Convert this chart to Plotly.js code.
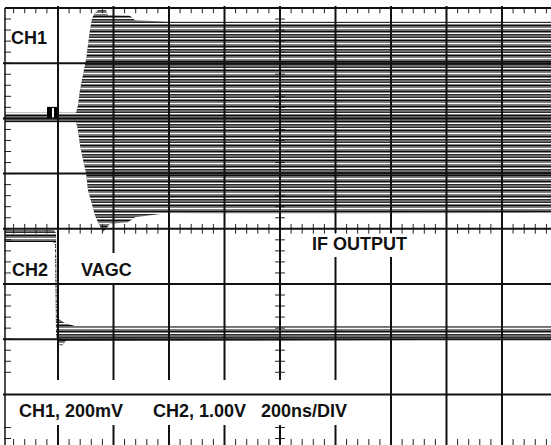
<!DOCTYPE html>
<html><head><meta charset="utf-8">
<script src="https://cdn.plot.ly/plotly-3.0.1.min.js"></script>
<style>html,body{margin:0;padding:0;background:#fff;}#chart{width:551px;height:445px;}</style>
</head><body><div id="chart"></div>
<script>
// ---- data (time in ns, amplitude in divisions) ----
const ch1UpperT = [9, 265, 272, 279, 290, 301, 308, 315, 323, 333, 344, 373, 380, 459, 477, 604, 1977];
const ch1UpperV = [2.10, 2.10, 2.24, 2.51, 2.79, 3.06, 3.33, 3.60, 3.82, 3.91, 3.96, 3.96, 3.87, 3.86, 3.78, 3.75, 3.75];
const ch1LowerT = [9, 265, 272, 279, 290, 301, 308, 323, 333, 344, 355, 362, 373, 387, 452, 477, 568, 1977];
const ch1LowerV = [1.93, 1.93, 1.79, 1.52, 1.25, 1.01, 0.70, 0.43, 0.25, 0.12, 0.01, -0.06, 0.00, 0.09, 0.12, 0.21, 0.27, 0.29];
const ch2UpperT = [9, 186, 193, 196, 207, 225, 261, 1977];
const ch2UpperV = [-0.02, -0.02, -0.08, -1.62, -1.65, -1.71, -1.76, -1.76];
const ch2LowerT = [9, 182, 189, 193, 200, 214, 229, 1977];
const ch2LowerV = [-0.24, -0.24, -0.29, -1.92, -2.09, -2.12, -2.03, -2.01];
const markerT = [182];
const markerV = [2.10];
const xGrid = [200, 400, 600, 800, 1000, 1200, 1400, 1600, 1800];
const yGrid = [3, 2, 1, 0, -1, -2, -3];
const labelTexts = ['CH1', 'CH2', 'VAGC', 'IF OUTPUT', 'CH1, 200mV', 'CH2, 1.00V', '200ns/DIV'];

// ---- geometry ----
const W = 551, H = 445;
const ML = 3, MT = 6;
const PW = W - ML, PH = H - MT;
const XR = [1.8, 1976.6];
const YR = [-3.917, 4.036];
const pxX = t => ML + (t - XR[0]) / (XR[1] - XR[0]) * PW;
const pxY = v => MT + (YR[1] - v) / (YR[1] - YR[0]) * PH;
const tOf = px => XR[0] + (px - ML) / PW * (XR[1] - XR[0]);
const vOf = py => YR[1] - (py - MT) / PH * (YR[1] - YR[0]);
const paperX = px => (px - ML) / PW;
const paperY = py => 1 - (py - MT) / PH;

const labelPos = [[29, 38], [30, 270], [106, 270], [359, 244], [71, 411], [199, 411], [304, 411]];
const gapBoxes = [
  {x0: 10, x1: 350, y0: 380, y1: 425},
  {x0: 300, x1: 415, y0: 233, y1: 257},
  {x0: 75, x1: 135, y0: 253, y1: 283}
];
const inGap = (px, py) => gapBoxes.some(g => px >= g.x0 - 3 && px <= g.x1 + 3 && py >= g.y0 && py <= g.y1);

function band(uT, uV, lT, lV) {
  return {x: uT.concat(lT.slice().reverse()), y: uV.concat(lV.slice().reverse())};
}
const b1 = band(ch1UpperT, ch1UpperV, ch1LowerT, ch1LowerV);
const b2 = band(ch2UpperT, ch2UpperV, ch2LowerT, ch2LowerV);
const patA = {shape: '-', size: 3, solidity: 0.5, fgcolor: '#0d0d0d', bgcolor: '#8c8c8c'};
const patB = {shape: '-', size: 5, solidity: 0.25, fgcolor: '#ffffff', bgcolor: 'rgba(0,0,0,0)'};

const traces = [];
[b1, b2].forEach(b => {
  traces.push({x: b.x, y: b.y, mode: 'none', fill: 'toself', fillpattern: patA, hoverinfo: 'skip', showlegend: false});
  traces.push({x: b.x, y: b.y, mode: 'none', fill: 'toself', fillcolor: 'rgba(0,0,0,0)', fillpattern: patB, hoverinfo: 'skip', showlegend: false});
});

// graticule minor ticks
const tickT = [], tickV = [];
for (let k = 1; k < 50; k++) tickT.push(k * 40);
for (let k = -19; k <= 19; k++) tickV.push(k * 0.2);
const tickMk = (sym, size) => ({symbol: sym, size: size, color: '#222', line: {width: 1, color: '#222'}});
function tickRow(xs, ys, sym, size) {
  const X = [], Y = [];
  xs.forEach((x, i) => { if (!inGap(pxX(x), pxY(ys[i]))) { X.push(x); Y.push(ys[i]); } });
  return {x: X, y: Y, mode: 'markers', marker: tickMk(sym, size), hoverinfo: 'skip', showlegend: false};
}
traces.push(tickRow(tickT, tickT.map(() => vOf(10.5)), 'line-ns', 4));
traces.push(tickRow(tickT, tickT.map(() => 0), 'line-ns', 7));
traces.push(tickRow(tickT, tickT.map(() => vOf(442.5)), 'line-ns', 5));
traces.push(tickRow(tickV.map(() => tOf(7.5)), tickV, 'line-ew', 5));
traces.push(tickRow(tickV.map(() => 1000), tickV, 'line-ew', 7));
// ground marker of CH1
traces.push({x: markerT, y: markerV, mode: 'markers', marker: {symbol: 'square', size: 12, color: '#000'}, hoverinfo: 'skip', showlegend: false});
traces.push({x: markerT, y: markerV, mode: 'markers', marker: {symbol: 'line-ns', size: 7, line: {width: 2, color: '#fff'}}, hoverinfo: 'skip', showlegend: false});

// gridlines as shapes above traces
const shapes = [];
const gl = {color: '#111', width: 2};
xGrid.forEach(t => {
  const px = pxX(t);
  let gaps = gapBoxes.filter(g => px >= g.x0 && px <= g.x1).map(g => [g.y0, g.y1]).sort((a, b) => a[0] - b[0]);
  let start = MT;
  gaps.forEach(g => { shapes.push({type: 'line', xref: 'x', yref: 'y', x0: t, x1: t, y0: vOf(start), y1: vOf(g[0]), line: gl, layer: 'above'}); start = g[1]; });
  shapes.push({type: 'line', xref: 'x', yref: 'y', x0: t, x1: t, y0: vOf(start), y1: YR[0], line: gl, layer: 'above'});
});
yGrid.forEach(v => shapes.push({type: 'line', xref: 'x', yref: 'y', x0: XR[0], x1: XR[1], y0: v, y1: v, line: gl, layer: 'above'}));
shapes.push({type: 'line', xref: 'x', yref: 'y', x0: tOf(5), x1: XR[1], y0: 4, y1: 4, line: gl, layer: 'above'});
shapes.push({type: 'line', xref: 'x', yref: 'y', x0: tOf(5), x1: tOf(5), y0: 4, y1: YR[0], line: {color: '#111', width: 1.5}, layer: 'above'});

const annotations = labelTexts.map((s, i) => ({
  text: '<b>' + s + '</b>', xref: 'paper', yref: 'paper',
  x: paperX(labelPos[i][0]), y: paperY(labelPos[i][1]), xanchor: 'center', yanchor: 'middle',
  showarrow: false, font: {family: 'Liberation Sans, Arial, sans-serif', size: 18, color: '#111'}
}));

const layout = {
  width: W, height: H, margin: {l: ML, r: 0, t: MT, b: 0},
  paper_bgcolor: '#fff', plot_bgcolor: '#fff', showlegend: false,
  xaxis: {range: XR, showgrid: false, zeroline: false, showticklabels: false, ticks: '', fixedrange: true},
  yaxis: {range: YR, showgrid: false, zeroline: false, showticklabels: false, ticks: '', fixedrange: true},
  shapes: shapes, annotations: annotations
};
Plotly.newPlot('chart', traces, layout, {staticPlot: true, displayModeBar: false});
</script></body></html>
